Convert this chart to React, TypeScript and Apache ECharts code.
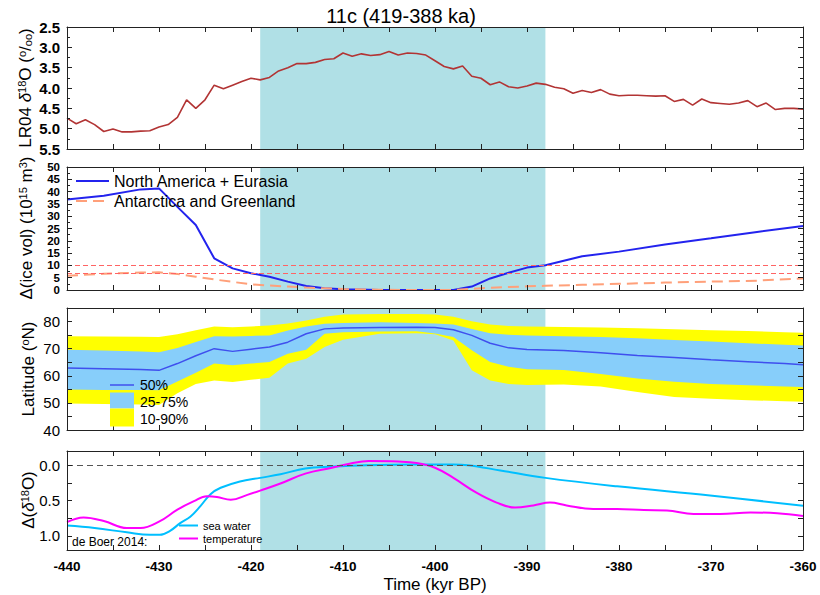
import React, { useEffect, useRef } from 'react';
import * as echarts from 'echarts';

const FONT = '"Liberation Sans", Arial, Helvetica, sans-serif';

// ---------- data ----------
const shadeStart = -419;
const shadeEnd = -388;

// LR04 benthic d18O stack, 1-kyr spacing from -440 to -360
const lr04Start = -440;
const lr04Step = 1;
const lr04Values = [
  4.74, 4.88, 4.78, 4.90, 5.07, 5.01, 5.08, 5.08, 5.06, 5.05,
  4.96, 4.90, 4.72, 4.29, 4.50, 4.29, 3.93, 4.02, 3.93, 3.84,
  3.76, 3.80, 3.74, 3.58, 3.50, 3.40, 3.40, 3.37, 3.30, 3.28,
  3.14, 3.22, 3.16, 3.20, 3.18, 3.10, 3.19, 3.14, 3.15, 3.19,
  3.33, 3.47, 3.53, 3.46, 3.71, 3.76, 3.92, 3.85, 3.97, 4.00,
  3.95, 3.88, 3.91, 3.98, 4.02, 4.13, 4.06, 4.11, 4.04, 4.15,
  4.19, 4.18, 4.18, 4.19, 4.20, 4.19, 4.33, 4.28, 4.42, 4.27,
  4.36, 4.38, 4.40, 4.37, 4.31, 4.46, 4.37, 4.53, 4.50, 4.50,
  4.52,
];

// ice volume anomalies (10^15 m^3)
const iceTime = [-440, -436, -432, -430, -428, -426, -424, -422, -420, -418, -416, -414, -412, -410, -406, -402, -398, -396, -394, -392, -390, -388, -384, -380, -375, -370, -365, -360];
const iceNaEu = [36.8, 38.3, 40.9, 41.3, 33.8, 26.4, 12.9, 8.8, 6.8, 5.4, 3.4, 1.6, 0.7, 0.3, 0, 0, 0, 1.4, 4.7, 7.0, 9.1, 10.1, 13.7, 15.6, 18.5, 21.0, 23.6, 26.0];
const iceAntGr = [5.8, 6.6, 7.1, 7.2, 6.5, 5.4, 4.3, 3.3, 2.3, 1.8, 1.4, 1.0, 0.7, 0.4, 0.1, 0, 0, 0.5, 0.9, 1.2, 1.5, 1.7, 2.1, 2.5, 3.0, 3.4, 3.8, 4.7];
const iceRefLevels = [10, 7];

// ice-sheet margin latitude percentiles
const latTime = [-440, -436, -432, -430, -428, -426, -424, -422, -420, -418, -416, -414, -412, -410, -406, -402, -400, -398, -396, -394, -392, -390, -386, -382, -378, -374, -370, -366, -362, -360];
const lat90 = [74.6, 74.5, 74.4, 74.3, 75.3, 76.8, 78.2, 77.9, 78.2, 78.5, 79.3, 80.4, 81.8, 82.6, 82.8, 82.8, 82.6, 81.8, 80.1, 78.9, 78.4, 78.2, 78.0, 77.8, 77.5, 77.2, 76.8, 76.5, 76.1, 75.9];
const lat75 = [69.6, 69.3, 69.0, 68.7, 70.2, 72.5, 74.6, 74.5, 74.7, 74.9, 76.7, 78.2, 79.2, 79.5, 79.7, 79.5, 79.3, 78.9, 77.3, 75.7, 75.1, 74.9, 74.6, 74.3, 73.8, 73.2, 72.6, 72.0, 71.4, 71.2];
const lat50 = [62.9, 62.6, 62.3, 62.0, 64.5, 67.4, 70.0, 69.0, 69.8, 70.6, 72.4, 75.5, 77.3, 77.6, 77.8, 77.9, 77.8, 77.0, 74.9, 72.0, 70.3, 69.7, 69.3, 68.5, 67.5, 66.7, 65.9, 65.2, 64.5, 64.1];
const lat25 = [54.9, 54.8, 54.8, 54.7, 57.9, 61.1, 64.5, 63.9, 64.5, 65.1, 68.1, 69.6, 75.5, 76.1, 76.3, 76.4, 75.6, 74.3, 69.4, 65.1, 63.3, 62.4, 62.1, 60.7, 59.0, 57.8, 57.0, 56.5, 56.0, 55.9];
const lat10 = [49.8, 49.6, 49.4, 49.2, 53.6, 57.0, 58.3, 57.7, 58.5, 59.3, 64.5, 66.3, 70.6, 73.3, 75.5, 75.7, 75.3, 73.0, 62.0, 58.3, 57.0, 56.6, 56.8, 56.0, 54.0, 52.2, 51.5, 51.0, 50.6, 50.4];

// de Boer 2014 delta(d18O) contributions
const seaWaterTime = [-440, -437, -433.5, -431, -429.9, -428.8, -427.7, -426.6, -425.5, -424.4, -423.3, -421.2, -419, -416.8, -414.1, -411.2, -407.5, -402, -398, -396.4, -392.9, -388, -380.2, -370.1, -360];
const seaWaterValues = [0.855, 0.89, 0.95, 0.986, 0.986, 0.93, 0.82, 0.73, 0.58, 0.41, 0.32, 0.23, 0.18, 0.13, 0.047, 0.02, 0.0, -0.01, -0.01, 0.0, 0.075, 0.18, 0.30, 0.43, 0.573];
const tempTime = [-440, -438.2, -436, -433.5, -432, -430, -428, -426.2, -424.8, -423.7, -422.2, -420.4, -419, -416.8, -414.1, -411.2, -409.3, -407.2, -404, -402, -400, -398, -395.5, -393.3, -391.3, -389.3, -387.5, -385.7, -382.8, -380.2, -377.3, -374.8, -371.9, -369, -365.7, -362.8, -360];
const tempValues = [0.805, 0.74, 0.79, 0.89, 0.89, 0.80, 0.63, 0.51, 0.44, 0.45, 0.49, 0.42, 0.36, 0.26, 0.12, 0.037, -0.02, -0.057, -0.05, -0.03, 0.037, 0.18, 0.39, 0.53, 0.60, 0.57, 0.53, 0.57, 0.62, 0.62, 0.635, 0.64, 0.69, 0.69, 0.67, 0.68, 0.72];

const d18TickValues = [0, 0.25, 0.5, 0.75, 1.0];
const d18LabelValues = [0, 0.5, 1.0];

// ---------- option ----------
const AX = '#222';
const SHADE = '#B0E0E6';
const YELLOW = '#FFFF00';
const LIGHTBLUE = '#87CEFA';
const pairs = (xs: number[], ys: number[]) => xs.map((x, i) => [x, ys[i]]);

function buildOption() {
  const grids = [
    { left: 67, right: 17, top: 27, height: 122 },
    { left: 67, right: 17, top: 167, height: 123 },
    { left: 67, right: 17, top: 308, height: 122 },
    { left: 67, right: 17, top: 451, height: 99 },
  ];

  const xAxes: any[] = [];
  grids.forEach((_g, i) => {
    ['bottom', 'top'].forEach((pos) => {
      xAxes.push({
        type: 'value', gridIndex: i, position: pos, min: -440, max: -360, interval: 5, z: 10,
        axisLine: { show: true, onZero: false, lineStyle: { color: AX, width: 1 } },
        axisTick: { show: true, inside: true, length: 5, lineStyle: { color: AX, width: 1 } },
        axisLabel: {
          show: i === 3 && pos === 'bottom', showMinLabel: true, showMaxLabel: true,
          formatter: (v: number) => (v % 10 === 0 ? String(v) : ''),
          fontSize: 13.5, fontWeight: 'bold', color: '#000', fontFamily: FONT, margin: 9,
        },
        splitLine: { show: false },
      });
    });
  });

  const ySpecs: any[] = [
    { min: 2.5, max: 5.5, interval: 0.5, inverse: true, minor: true, bold: true, fs: 15, fmt: (v: number) => v.toFixed(1) },
    { min: 0, max: 50, interval: 5, minor: true, bold: true, fs: 11.5, lh: 11, fmt: (v: number) => String(v) },
    { min: 40, max: 85, interval: 5, minor: false, bold: false, fs: 15, fmt: (v: number) => (v % 10 === 0 && v <= 80 ? String(v) : '') },
    { min: -0.2, max: 1.2, inverse: true, minor: false, bold: false, fs: 15, custom: true, fmt: (v: number) => v.toFixed(1) },
  ];
  const yAxes: any[] = [];
  ySpecs.forEach((s, i) => {
    ['left', 'right'].forEach((pos) => {
      const ax: any = {
        type: 'value', gridIndex: i, position: pos, min: s.min, max: s.max, inverse: !!s.inverse, z: 10,
        axisLine: { show: true, onZero: false, lineStyle: { color: AX, width: 1 } },
        axisTick: { show: true, inside: true, length: 5, lineStyle: { color: AX, width: 1 } },
        minorTick: { show: s.minor, splitNumber: 2, length: 3, lineStyle: { color: AX, width: 1 } },
        axisLabel: {
          show: pos === 'left', showMinLabel: true, showMaxLabel: true, formatter: s.fmt,
          fontSize: s.fs, fontWeight: s.bold ? 'bold' : 'normal',
          color: '#000', fontFamily: FONT, margin: 7,
        },
        splitLine: { show: false },
        minorSplitLine: { show: false },
      };
      if (s.lh) ax.axisLabel.lineHeight = s.lh;
      if (s.interval) ax.interval = s.interval;
      if (s.custom) {
        ax.axisTick.customValues = d18TickValues;
        ax.axisLabel.customValues = d18LabelValues;
      }
      yAxes.push(ax);
    });
  });

  const shadeSeries = (i: number, extra: any = {}) => ({
    type: 'line', name: 'shade' + i, xAxisIndex: 2 * i, yAxisIndex: 2 * i, data: [], silent: true,
    symbol: 'none', z: 1,
    markArea: { silent: true, itemStyle: { color: SHADE }, data: [[{ xAxis: shadeStart }, { xAxis: shadeEnd }]] },
    ...extra,
  });

  const lineBase = { type: 'line', symbol: 'none', showSymbol: false, silent: true, z: 3 };
  const lr04Pairs = lr04Values.map((v, i) => [lr04Start + i * lr04Step, v]);

  // percentile bands: outer 10-90 (yellow) then inner 25-75 (light blue)
  const bands = [
    { lower: lat10, upper: lat90, color: YELLOW },
    { lower: lat25, upper: lat75, color: LIGHTBLUE },
  ];

  const series: any[] = [
    // panel 1
    shadeSeries(0),
    { ...lineBase, name: 'LR04', xAxisIndex: 0, yAxisIndex: 0, data: lr04Pairs, lineStyle: { color: '#B23434', width: 1.6 } },
    // panel 2
    shadeSeries(1, {
      markLine: {
        silent: true, symbol: 'none', label: { show: false },
        lineStyle: { color: '#FF6464', type: [5, 3], width: 1.2 },
        data: iceRefLevels.map((v) => ({ yAxis: v })),
      },
    }),
    { ...lineBase, name: 'North America + Eurasia', xAxisIndex: 2, yAxisIndex: 2, data: pairs(iceTime, iceNaEu), lineStyle: { color: '#2323EE', width: 2 }, itemStyle: { color: '#2323EE' } },
    { ...lineBase, name: 'Antarctica and Greenland', xAxisIndex: 2, yAxisIndex: 2, data: pairs(iceTime, iceAntGr), lineStyle: { color: '#FFA07A', width: 2, type: [11, 6] }, itemStyle: { color: '#FFA07A' } },
    // panel 3
    shadeSeries(2),
    {
      type: 'custom', name: 'bands', xAxisIndex: 4, yAxisIndex: 4, silent: true, z: 2,
      data: bands.map((_b, k) => [latTime[0], bands[k].lower[0]]),
      renderItem: (params: any, api: any) => {
        const b = bands[params.dataIndex];
        const pts: number[][] = [];
        latTime.forEach((t, i) => pts.push(api.coord([t, b.upper[i]])));
        for (let i = latTime.length - 1; i >= 0; i--) pts.push(api.coord([latTime[i], b.lower[i]]));
        return { type: 'polygon', shape: { points: pts }, style: { fill: b.color, stroke: null } };
      },
    },
    { ...lineBase, name: '50%', xAxisIndex: 4, yAxisIndex: 4, data: pairs(latTime, lat50), lineStyle: { color: '#3F4FEE', width: 1.5 } },
    // panel 4
    shadeSeries(3, {
      markLine: {
        silent: true, symbol: 'none', label: { show: false },
        lineStyle: { color: '#555', type: [6, 4], width: 1.2 },
        data: [{ yAxis: 0 }],
      },
    }),
    { ...lineBase, name: 'sea water', xAxisIndex: 6, yAxisIndex: 6, smooth: 0.4, data: pairs(seaWaterTime, seaWaterValues), lineStyle: { color: '#00BFFF', width: 2 }, itemStyle: { color: '#00BFFF' } },
    { ...lineBase, name: 'temperature', xAxisIndex: 6, yAxisIndex: 6, smooth: 0.4, data: pairs(tempTime, tempValues), lineStyle: { color: '#FF00FF', width: 2 }, itemStyle: { color: '#FF00FF' } },
  ];

  const rotText = (x: number, y: number, text: string) => ({
    type: 'text', x, y, rotation: Math.PI / 2, z: 100,
    style: {
      text, textAlign: 'center', textVerticalAlign: 'middle', align: 'center', verticalAlign: 'middle',
      fill: '#000', fontFamily: FONT, fontSize: 17,
      rich: {
        n: { fontSize: 17, fontFamily: FONT, fill: '#000', color: '#000' },
        i: { fontSize: 17, fontFamily: FONT, fontStyle: 'italic', fill: '#000', color: '#000' },
        s: { fontSize: 11, fontFamily: FONT, verticalAlign: 'top', fill: '#000', color: '#000' },
        b: { fontSize: 11, fontFamily: FONT, verticalAlign: 'bottom', fill: '#000', color: '#000' },
      },
    },
  });

  const plainText = (x: number, y: number, text: string, size: number, align = 'left') => ({
    type: 'text', x, y, z: 100,
    style: { text, fontSize: size, fontFamily: FONT, fill: '#000', textAlign: align, align, textVerticalAlign: 'middle', verticalAlign: 'middle' },
  });

  const graphic: any[] = [
    plainText(401, 16, '11c (419-388 ka)', 20, 'center'),
    rotText(25, 88, '{n|LR04 }{i|δ}{s|18}{n|O (}{s|o}{n|/}{b|oo}{n|)}'),
    rotText(26, 228, '{n|Δ(ice vol) (10}{s|15}{n| m}{s|3}{n|)}'),
    rotText(28, 369, '{n|Latitude (}{s|o}{n|N)}'),
    rotText(28, 500, '{n|Δ(}{i|δ}{s|18}{n|O)}'),
    plainText(435, 584, 'Time (kyr BP)', 17, 'center'),
    // panel 3 legend
    { type: 'line', z: 100, shape: { x1: 110, y1: 385, x2: 134, y2: 385 }, style: { stroke: '#3F4FEE', lineWidth: 1.5 } },
    { type: 'rect', z: 100, shape: { x: 110, y: 392.5, width: 24, height: 16 }, style: { fill: LIGHTBLUE } },
    { type: 'rect', z: 100, shape: { x: 110, y: 408.5, width: 24, height: 18 }, style: { fill: YELLOW } },
    plainText(140, 385, '50%', 14),
    plainText(140, 402, '25-75%', 14),
    plainText(140, 419, '10-90%', 14),
    // panel 4 note
    plainText(72, 542, 'de Boer 2014:', 12),
  ];

  return {
    animation: false,
    backgroundColor: '#fff',
    textStyle: { fontFamily: FONT },
    grid: grids,
    xAxis: xAxes,
    yAxis: yAxes,
    legend: [
      {
        data: ['North America + Eurasia', 'Antarctica and Greenland'],
        orient: 'vertical', left: 75, top: 173, itemWidth: 33, itemHeight: 14, itemGap: 4, padding: 0,
        selectedMode: false, itemStyle: { opacity: 0, borderWidth: 0 },
        textStyle: { fontSize: 16, color: '#000', fontFamily: FONT },
      },
      {
        data: ['sea water', 'temperature'],
        orient: 'vertical', left: 178, top: 520, itemWidth: 19, itemHeight: 12, itemGap: 2, padding: 0,
        selectedMode: false, itemStyle: { opacity: 0, borderWidth: 0 },
        textStyle: { fontSize: 11, color: '#000', fontFamily: FONT },
      },
    ],
    graphic,
    series,
  };
}

export default function App() {
  const ref = useRef<HTMLDivElement>(null);
  useEffect(() => {
    const chart = echarts.init(ref.current as HTMLDivElement, undefined, { renderer: 'svg' });
    chart.setOption(buildOption() as any);
    return () => chart.dispose();
  }, []);
  return (
    <div
      ref={ref}
      style={{ position: 'fixed', left: 0, top: 0, width: 820, height: 595, background: '#fff' }}
    />
  );
}
